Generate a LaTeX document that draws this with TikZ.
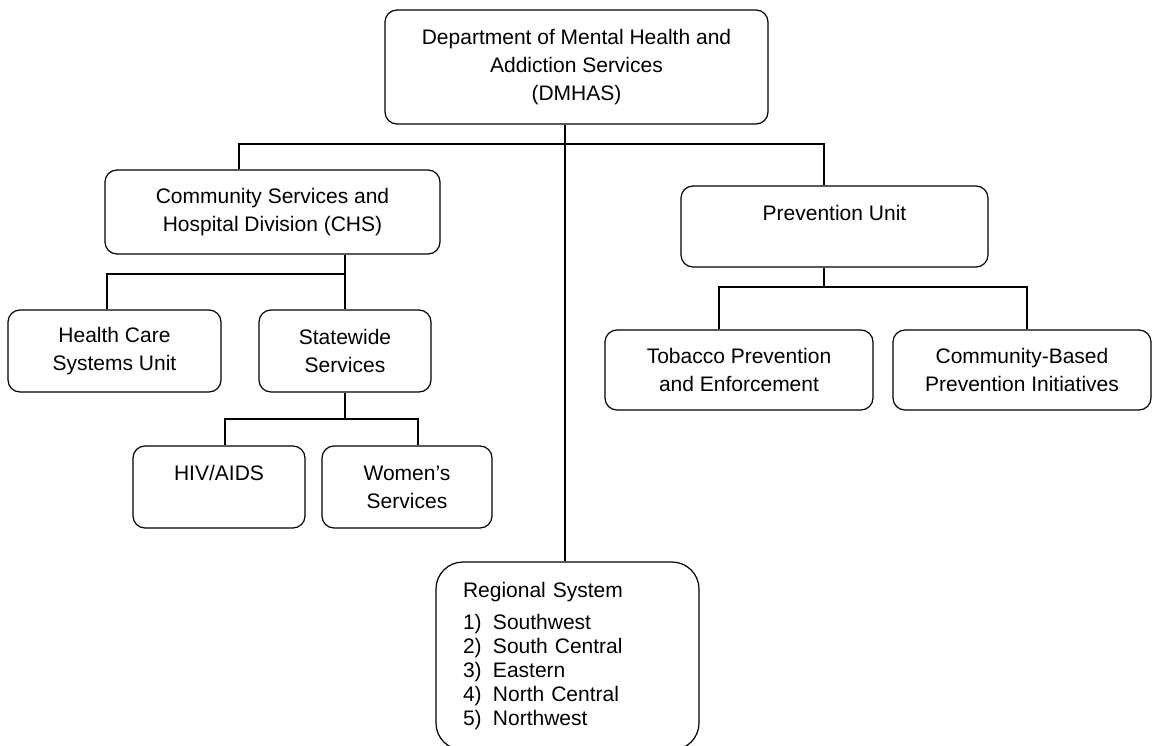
\documentclass[tikz,border=0pt]{standalone}
\usepackage{fontspec}
\setmainfont{Liberation Sans}
\begin{document}
\begin{tikzpicture}[x=1pt,y=-1pt,
  box/.style={draw, line width=1.2pt, rounded corners=12pt, align=center, inner sep=0pt,
    font=\fontsize{21}{28}\selectfont},
  conn/.style={line width=1.2pt}]
\useasboundingbox (0,0) rectangle (1154,746);
\clip (0,0) rectangle (1154,746);
\fill[white] (0,0) rectangle (1154,746);

\node[box, minimum width=383pt, minimum height=114pt] (dmhas) at (576.5,67)
  {Department of Mental Health and\\Addiction Services\\(DMHAS)};
\node[box, minimum width=335pt, minimum height=84pt] (chs) at (272.5,212)
  {Community Services and\\Hospital Division (CHS)};
\node[box, minimum width=307pt, minimum height=81pt] (prev) at (834.5,226.5)
  {Prevention Unit\\\mbox{}};
\node[box, minimum width=213pt, minimum height=82pt] (hcs) at (114.5,351)
  {Health Care\\Systems Unit};
\node[box, minimum width=172pt, minimum height=82pt] (sws) at (345,351)
  {Statewide\\Services};
\node[box, minimum width=172pt, minimum height=82pt] (hiv) at (219,487)
  {HIV/AIDS\\\mbox{}};
\node[box, minimum width=170pt, minimum height=82pt] (wom) at (407,487)
  {Women’s\\Services};
\node[box, minimum width=268pt, minimum height=80pt] (tob) at (739,370)
  {Tobacco Prevention\\and Enforcement};
\node[box, minimum width=258pt, minimum height=80pt] (cbp) at (1022,370)
  {Community-Based\\Prevention Initiatives};
\node[box, rounded corners=27pt, minimum width=263pt, minimum height=188pt,
  text width=209pt, align=left, font=\fontsize{21}{24}\selectfont] (reg) at (567.5,656)
  {Regional System\\[8pt]
   \makebox[30pt][l]{1)}Southwest\\
   \makebox[30pt][l]{2)}South Central\\
   \makebox[30pt][l]{3)}Eastern\\
   \makebox[30pt][l]{4)}North Central\\
   \makebox[30pt][l]{5)}Northwest};

\coordinate (rx) at (565,300);
\coordinate (busL) at (239,144);
\coordinate (busR) at (824,144);
\coordinate (c0) at (107,274);
\coordinate (hL) at (225,419);
\coordinate (hR) at (418,419);
\coordinate (pL) at (719,287);
\coordinate (pR) at (1027,287);

\draw[conn] (rx |- reg.north) -- (rx |- dmhas.south);
\draw[conn] (busL |- chs.north) -- (busL) -- (busR) -- (busR |- prev.north);
\draw[conn] (sws.north) -- (sws.north |- chs.south);
\draw[conn] (c0 |- hcs.north) -- (c0) -- (c0 -| sws.north);
\draw[conn] (sws.south) -- (sws.south |- hL);
\draw[conn] (hL |- hiv.north) -- (hL) -- (hR) -- (hR |- wom.north);
\draw[conn] (busR |- prev.south) -- (busR |- pL);
\draw[conn] (pL |- tob.north) -- (pL) -- (pR) -- (pR |- cbp.north);
\end{tikzpicture}
\end{document}
